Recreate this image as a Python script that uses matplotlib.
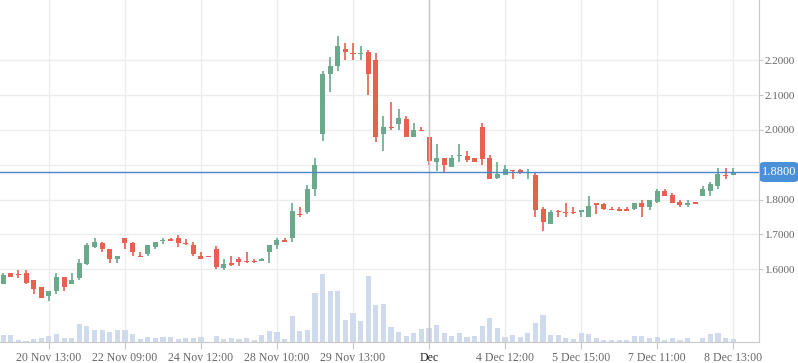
import matplotlib
matplotlib.use("Agg")
import matplotlib.pyplot as plt
from matplotlib.patches import FancyBboxPatch
import numpy as np

# candle data
opens = [
    1.558, 1.589, 1.587, 1.589, 1.569, 1.549, 1.524, 1.539, 1.578, 1.558,
    1.575, 1.615, 1.664, 1.675, 1.658, 1.630, 1.690, 1.675, 1.638, 1.645,
    1.664, 1.680, 1.686, 1.690, 1.676, 1.670, 1.638, 1.637, 1.658, 1.604,
    1.618, 1.630, 1.625, 1.624, 1.625, 1.649, 1.670, 1.684, 1.690, 1.760,
    1.764, 1.830, 1.988, 2.161, 2.184, 2.232, 2.221, 2.219, 2.225, 2.201,
    1.988, 2.009, 2.017, 2.031, 1.980, 2.001, 1.980, 1.908, 1.919, 1.893,
    1.927, 1.925, 1.919, 2.009, 1.919, 1.862, 1.871, 1.886, 1.885, 1.878,
    1.871, 1.773, 1.730, 1.768, 1.766, 1.765, 1.764, 1.750, 1.790, 1.788,
    1.774, 1.772, 1.771, 1.773, 1.790, 1.779, 1.793, 1.825, 1.814, 1.793,
    1.784, 1.790, 1.810, 1.825, 1.839, 1.872, 1.871,
]
closes = [
    1.584, 1.578, 1.585, 1.561, 1.544, 1.518, 1.538, 1.578, 1.550, 1.569,
    1.618, 1.670, 1.678, 1.658, 1.630, 1.638, 1.676, 1.650, 1.637, 1.670,
    1.678, 1.685, 1.684, 1.676, 1.673, 1.644, 1.630, 1.637, 1.606, 1.615,
    1.615, 1.622, 1.623, 1.623, 1.630, 1.670, 1.684, 1.678, 1.767, 1.757,
    1.830, 1.899, 2.161, 2.184, 2.241, 2.224, 2.219, 2.221, 2.161, 1.981,
    2.008, 2.007, 2.034, 1.980, 2.000, 1.999, 1.911, 1.919, 1.899, 1.919,
    1.929, 1.914, 1.908, 1.917, 1.859, 1.874, 1.888, 1.884, 1.877, 1.880,
    1.770, 1.736, 1.764, 1.766, 1.764, 1.763, 1.770, 1.782, 1.784, 1.773,
    1.772, 1.770, 1.770, 1.790, 1.779, 1.799, 1.825, 1.811, 1.790, 1.784,
    1.790, 1.790, 1.830, 1.845, 1.874, 1.870, 1.880,
]
highs = [
    1.589, 1.589, 1.598, 1.598, 1.569, 1.549, 1.538, 1.589, 1.578, 1.589,
    1.630, 1.675, 1.690, 1.678, 1.658, 1.638, 1.690, 1.678, 1.650, 1.670,
    1.678, 1.690, 1.690, 1.699, 1.687, 1.678, 1.650, 1.637, 1.667, 1.630,
    1.638, 1.635, 1.650, 1.630, 1.631, 1.670, 1.690, 1.690, 1.790, 1.779,
    1.842, 1.920, 2.169, 2.210, 2.270, 2.250, 2.250, 2.241, 2.230, 2.221,
    2.040, 2.080, 2.060, 2.040, 2.020, 2.009, 1.980, 1.960, 1.919, 1.928,
    1.960, 1.939, 1.919, 2.020, 1.928, 1.908, 1.899, 1.886, 1.887, 1.888,
    1.879, 1.779, 1.770, 1.770, 1.790, 1.779, 1.770, 1.810, 1.790, 1.790,
    1.779, 1.779, 1.779, 1.790, 1.799, 1.799, 1.831, 1.831, 1.819, 1.799,
    1.799, 1.790, 1.839, 1.851, 1.891, 1.891, 1.891,
]
lows = [
    1.558, 1.578, 1.576, 1.559, 1.530, 1.518, 1.510, 1.530, 1.539, 1.558,
    1.569, 1.611, 1.660, 1.650, 1.619, 1.619, 1.658, 1.639, 1.637, 1.639,
    1.658, 1.672, 1.681, 1.664, 1.670, 1.639, 1.630, 1.637, 1.600, 1.598,
    1.610, 1.610, 1.618, 1.618, 1.624, 1.618, 1.658, 1.678, 1.678, 1.750,
    1.759, 1.810, 1.968, 2.109, 2.169, 2.201, 2.200, 2.200, 2.100, 1.965,
    1.940, 2.000, 2.000, 1.980, 1.980, 1.997, 1.899, 1.882, 1.879, 1.893,
    1.908, 1.908, 1.908, 1.899, 1.859, 1.859, 1.871, 1.859, 1.873, 1.859,
    1.750, 1.710, 1.730, 1.750, 1.750, 1.759, 1.750, 1.750, 1.759, 1.770,
    1.772, 1.770, 1.770, 1.770, 1.750, 1.770, 1.790, 1.811, 1.790, 1.779,
    1.779, 1.790, 1.810, 1.810, 1.831, 1.859, 1.871,
]
volume = [
    7, 7, 2, 1, 3, 4, 6, 8, 4, 4,
    18, 16, 12, 12, 10, 12, 12, 8, 3, 5,
    4, 5, 5, 3, 4, 4, 5, 0, 6, 3,
    4, 3, 4, 2, 7, 11, 10, 3, 26, 11,
    12, 49, 68, 51, 51, 22, 29, 21, 66, 37,
    38, 15, 10, 6, 9, 13, 14, 17, 9, 6,
    9, 5, 6, 16, 24, 14, 5, 7, 5, 9,
    19, 27, 7, 7, 4, 3, 9, 8, 4, 2,
    2, 2, 2, 6, 6, 4, 5, 2, 4, 2,
    4, 0, 4, 8, 9, 4, 3,
]

tick_pos = [6, 16, 26, 36, 46, 56, 66, 76, 86, 96]
tick_labels = ["20 Nov 13:00", "22 Nov 09:00", "24 Nov 12:00", "28 Nov 10:00",
               "29 Nov 13:00", "Dec", "4 Dec 12:00", "5 Dec 15:00",
               "7 Dec 11:00", "8 Dec 13:00"]
price_ticks = [1.6, 1.7, 1.8, 1.9, 2.0, 2.1, 2.2]
last_price = 1.88

up_col = "#6aa98c"
down_col = "#e8604f"
vol_col = "#cfdbec"
grid_col = "#ececec"
txt_col = "#666666"

fig = plt.figure(figsize=(7.98, 3.63), dpi=100)
rect = [0.0, 21 / 363, 759 / 798, 342 / 363]

ax_vol = fig.add_axes(rect)
ax = fig.add_axes(rect, sharex=ax_vol)
ax.patch.set_alpha(0)
ax_vol.set_zorder(0)
ax.set_zorder(1)

x = np.arange(len(opens))

# volume
ax_vol.bar(x, volume, width=0.68, color=vol_col, zorder=2)
ax_vol.set_ylim(0, max(volume) * 342 / 68)
ax_vol.set_yticks([])
ax_vol.set_xlim(-0.43, 99.4)
ax_vol.grid(True, axis="x", color=grid_col, lw=1, zorder=0)
ax_vol.set_axisbelow(True)
for s in ax_vol.spines.values():
    s.set_visible(False)

# candles
for i in x:
    o, c, h, l = opens[i], closes[i], highs[i], lows[i]
    col = up_col if c >= o else down_col
    if c == o and h == l:
        col = down_col
    ax.vlines(i, l, h, color=col, lw=1.2, zorder=3)
    lo = min(o, c)
    ht = max(abs(c - o), 0.0035)
    ax.bar(i, ht, bottom=lo - (0.0017 if abs(c - o) < 0.0035 else 0),
           width=0.66, color=col, zorder=4, linewidth=0)

ax.set_ylim(1.3912, 2.3731)
ax.set_xlim(-0.43, 99.4)
ax.set_yticks(price_ticks)
ax.set_yticklabels(["" if abs(p - 1.9) < 1e-6 else "%.4f" % p for p in price_ticks])
ax.yaxis.tick_right()
ax.grid(True, axis="y", color=grid_col, lw=1, zorder=0)

ax.set_xticks(tick_pos)
ax.set_xticklabels(tick_labels)

for lab in ax.get_xticklabels():
    lab.set_family("Liberation Serif")
    lab.set_fontsize(8.5)
    lab.set_color(txt_col)
for lab in ax.get_yticklabels():
    lab.set_family("Liberation Serif")
    lab.set_fontsize(8)
    lab.set_color(txt_col)
ax.get_xticklabels()[5].set_color("#222222")

ax.tick_params(axis="x", length=5, color="#c8c8c8", pad=2)
ax.tick_params(axis="y", length=3, color="#c8c8c8", pad=1)
ax_vol.tick_params(axis="x", labelbottom=False, length=0)

for k, s in ax.spines.items():
    s.set_visible(k in ("right", "bottom"))
    s.set_color("#c8c8c8")

# crosshair
ax.axvline(56, color="#c4c4c4", lw=1, zorder=5)
ax.axhline(last_price, color="#4a86c8", lw=1, zorder=5)

# current price label
box = FancyBboxPatch((760 / 798, 1 - 182 / 363), 38 / 798, 20 / 363,
                     boxstyle="round,pad=0,rounding_size=0.006",
                     transform=fig.transFigure, facecolor="#4a90d9",
                     edgecolor="none", zorder=10)
fig.patches.append(box)
fig.text(779 / 798, 1 - 172 / 363, "%.4f" % last_price, color="white",
         fontsize=9, family="Liberation Serif", ha="center", va="center",
         zorder=11)

fig.savefig("out.png", dpi=100)
